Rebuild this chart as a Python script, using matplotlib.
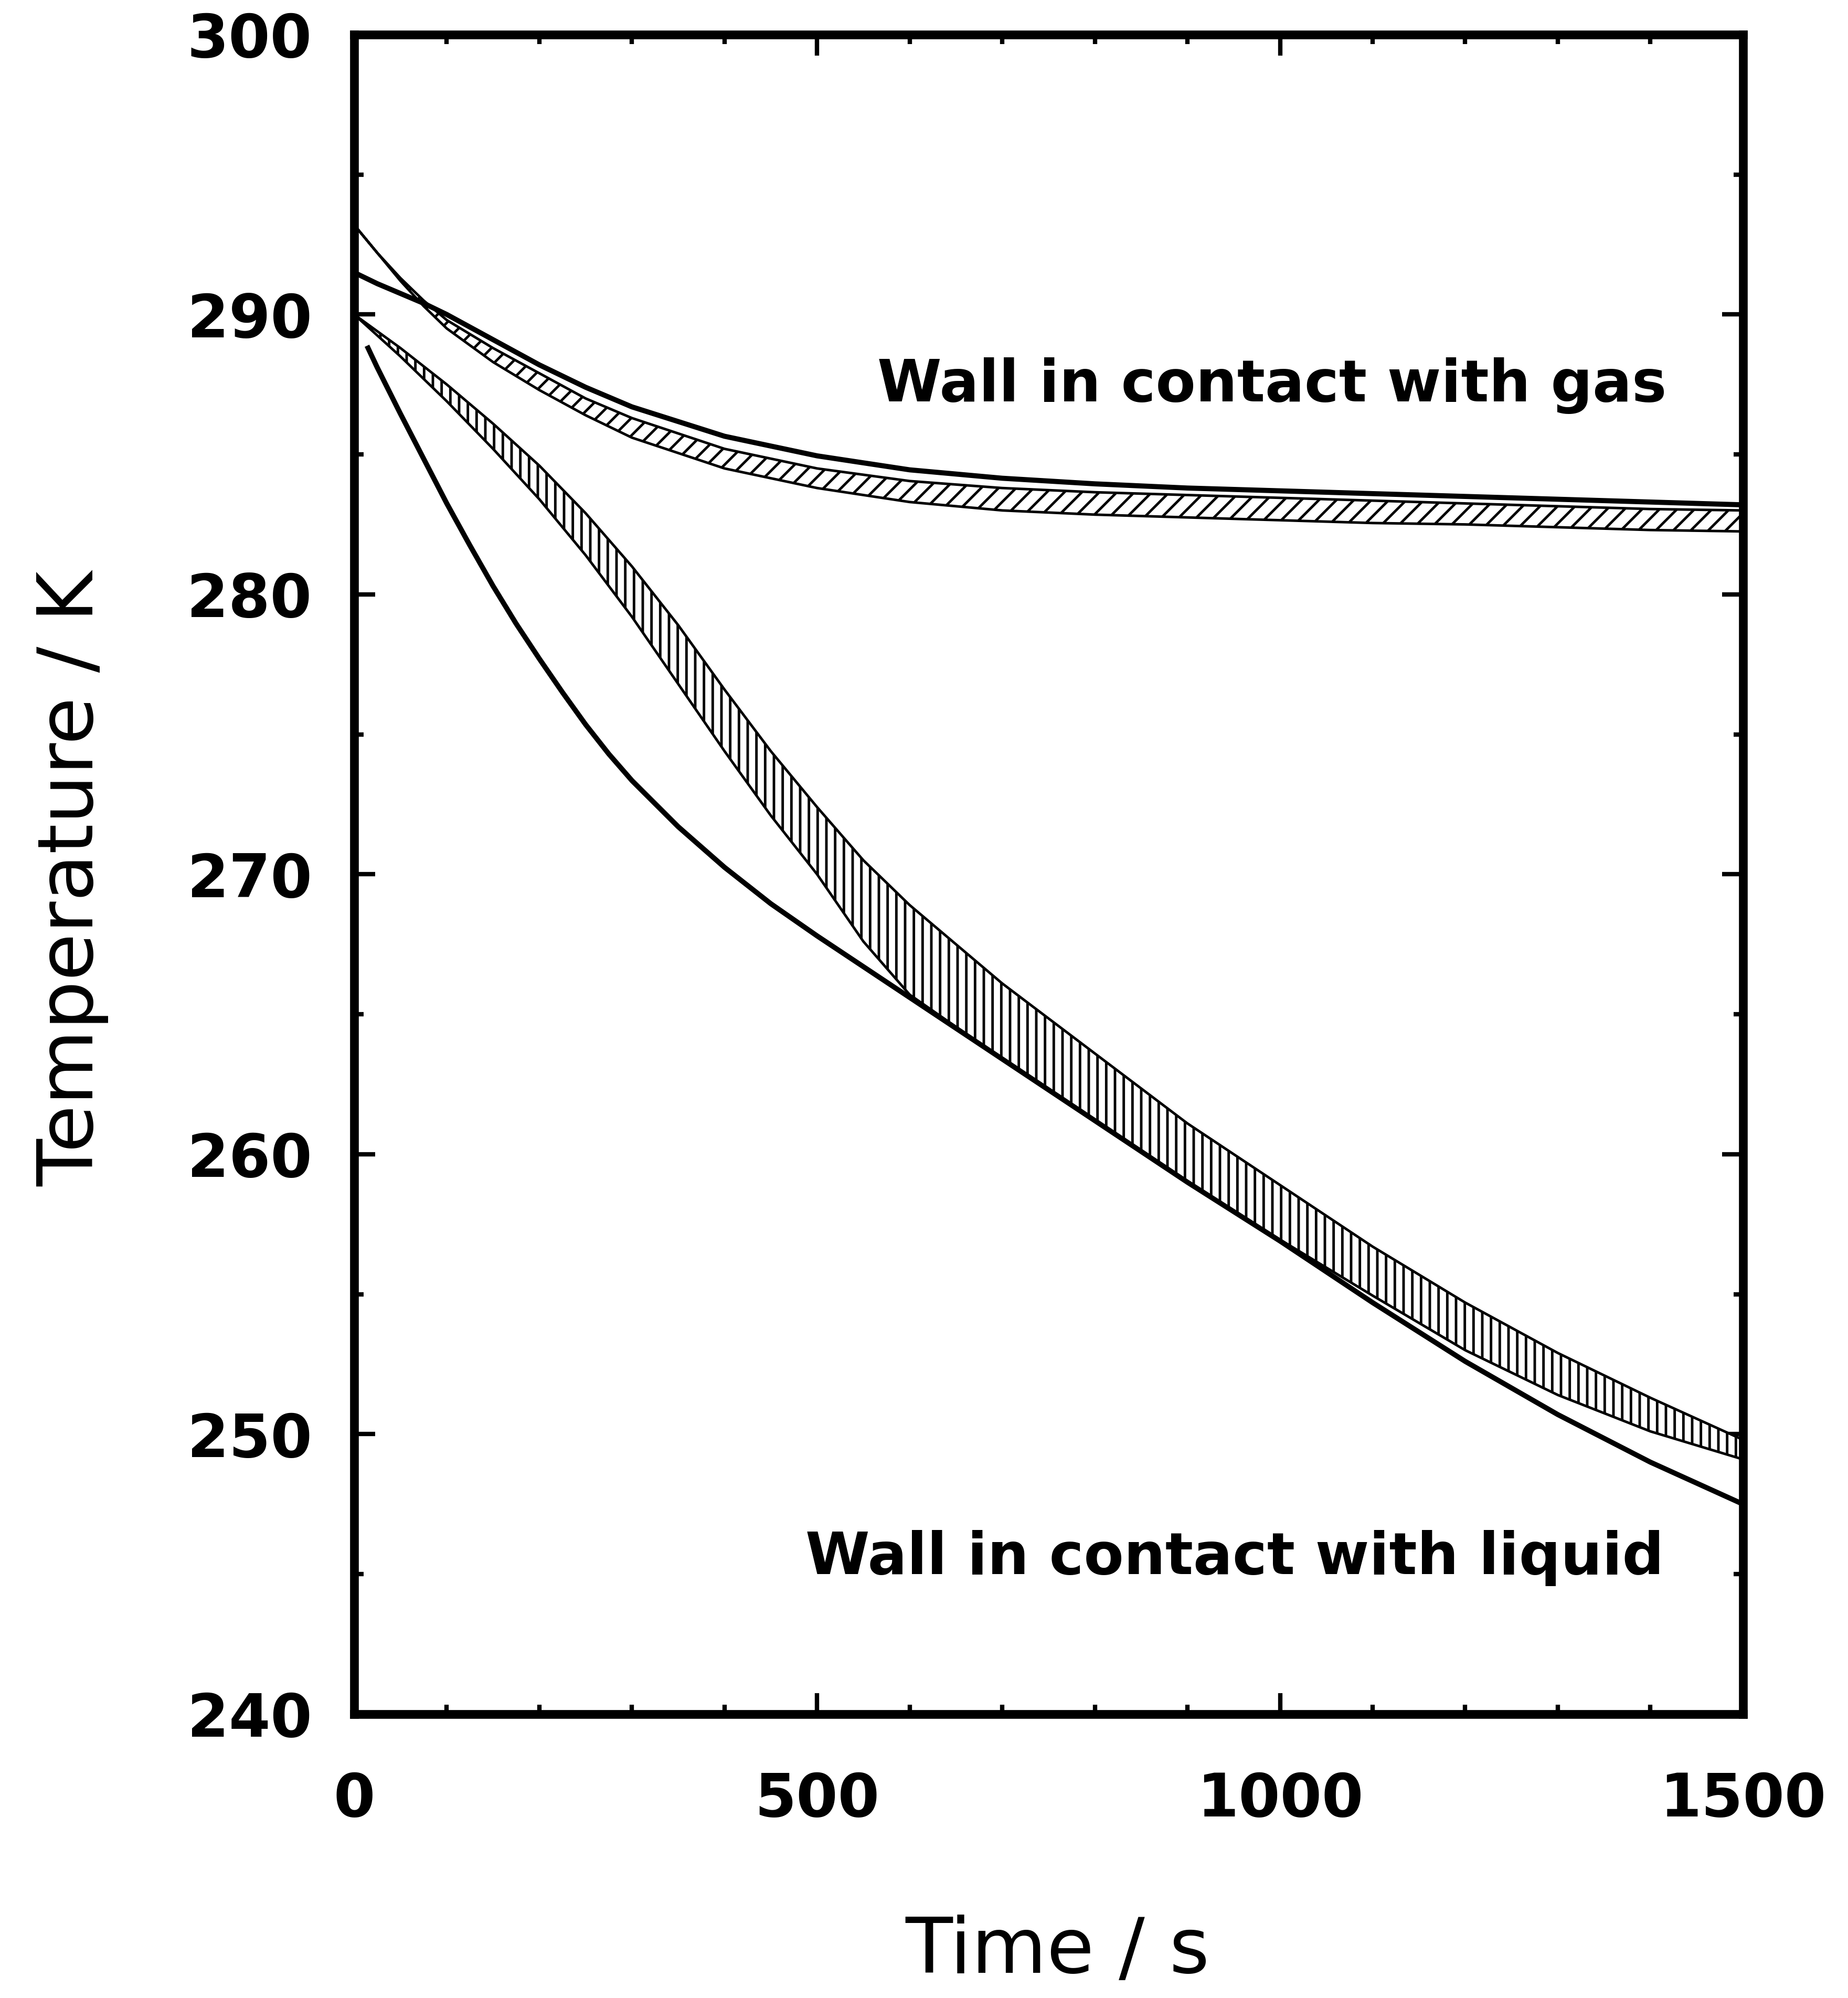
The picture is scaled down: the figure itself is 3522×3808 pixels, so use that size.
import matplotlib
matplotlib.use("Agg")
import matplotlib.pyplot as plt
from matplotlib.ticker import MultipleLocator

plt.rcParams["font.family"] = "DejaVu Sans"
plt.rcParams["hatch.linewidth"] = 3.5
plt.rcParams["hatch.color"] = "black"

# wall in contact with gas: model curve and measured band (s, K)
gas_t = [0, 25, 50, 75, 100, 150, 200, 250, 300, 400, 500, 600, 700, 800,
         900, 1000, 1100, 1200, 1300, 1400, 1500]
gas_model = [291.5, 291.1, 290.75, 290.4, 290.0, 289.1, 288.2, 287.4, 286.7,
             285.65, 284.95, 284.45, 284.15, 283.95, 283.8, 283.7, 283.6,
             283.5, 283.4, 283.3, 283.2]
gas_band_hi = [293.2, 292.2, 291.3, 290.5, 289.8, 288.8, 287.9, 287.0, 286.3,
               285.2, 284.5, 284.05, 283.8, 283.65, 283.55, 283.45, 283.35,
               283.25, 283.15, 283.05, 283.0]
gas_band_lo = [293.2, 292.2, 291.2, 290.3, 289.5, 288.3, 287.3, 286.4, 285.6,
               284.5, 283.8, 283.3, 283.0, 282.85, 282.75, 282.65, 282.55,
               282.5, 282.4, 282.3, 282.25]

# wall in contact with liquid
liq_band_t = [0, 50, 100, 150, 200, 250, 300, 350, 400, 450, 500, 550, 600,
              700, 800, 900, 1000, 1100, 1200, 1300, 1400, 1500]
liq_band_hi = [290.0, 288.8, 287.5, 286.1, 284.6, 282.9, 281.0, 278.9, 276.6,
               274.4, 272.4, 270.5, 268.9, 266.1, 263.6, 261.1, 258.9, 256.7,
               254.7, 252.9, 251.3, 249.8]
liq_band_lo = [290.0, 288.5, 286.9, 285.2, 283.4, 281.4, 279.2, 276.8, 274.4,
               272.1, 270.0, 267.6, 265.7, 263.4, 261.2, 259.0, 256.95, 254.95,
               253.0, 251.4, 250.1, 249.1]
liq_model_t = [15, 25, 50, 75, 100, 125, 150, 175, 200, 225, 250, 275, 300,
               350, 400, 450, 500, 550, 600, 700, 800, 900, 1000, 1100, 1200,
               1300, 1400, 1500]
liq_model = [288.8, 288.1, 286.45, 284.85, 283.25, 281.75, 280.3, 278.95,
             277.7, 276.5, 275.35, 274.3, 273.35, 271.7, 270.25, 268.95, 267.8,
             266.7, 265.6, 263.4, 261.2, 259.0, 256.9, 254.7, 252.6, 250.7,
             249.0, 247.5]

x_ticks = [0, 500, 1000, 1500]
x_tick_labels = ["0", "500", "1000", "1500"]
y_ticks = [240, 250, 260, 270, 280, 290, 300]
y_tick_labels = ["240", "250", "260", "270", "280", "290", "300"]

fig = plt.figure(figsize=(35.23, 38.08), dpi=100)
ax = fig.add_axes([0.1916, 0.1421, 0.7513, 0.8406])

# hatched bands first, model curves on top
ax.fill_between(gas_t, gas_band_lo, gas_band_hi, facecolor="white",
                edgecolor="black", hatch="/", linewidth=3.5, zorder=2)
ax.fill_between(liq_band_t, liq_band_lo, liq_band_hi, facecolor="white",
                edgecolor="black", hatch="|", linewidth=3.5, zorder=2)
ax.plot(gas_t, gas_model, color="black", linewidth=7, zorder=3)
ax.plot(liq_model_t, liq_model, color="black", linewidth=7, zorder=3)

ax.text(991, 286.9, "Wall in contact with gas", fontsize=80,
        fontweight="bold", ha="center", va="baseline")
ax.text(951, 245.0, "Wall in contact with liquid", fontsize=80,
        fontweight="bold", ha="center", va="baseline")

ax.set_xlim(0, 1500)
ax.set_ylim(240, 300)
ax.set_xticks(x_ticks, x_tick_labels, fontsize=82, fontweight="bold")
ax.set_yticks(y_ticks, y_tick_labels, fontsize=82, fontweight="bold")
ax.xaxis.set_minor_locator(MultipleLocator(100))
ax.yaxis.set_minor_locator(MultipleLocator(5))
ax.tick_params(which="both", direction="in", top=True, right=True, width=6)
ax.tick_params(which="major", length=29)
ax.tick_params(which="minor", length=13)
ax.tick_params(axis="x", which="major", pad=78)
ax.tick_params(axis="y", which="major", pad=58)
for spine in ax.spines.values():
    spine.set_linewidth(12)

ax.set_xlabel("Time / s", fontsize=106)
ax.xaxis.label.set_va("baseline")
ax.xaxis.set_label_coords(0.5066, -0.154)
ax.set_ylabel("Temperature / K", fontsize=106)
ax.yaxis.label.set_va("baseline")
ax.yaxis.label.set_rotation_mode("anchor")
ax.yaxis.set_label_coords(-0.188, 0.4973)

fig.savefig("out.png", dpi=100, facecolor="white")
